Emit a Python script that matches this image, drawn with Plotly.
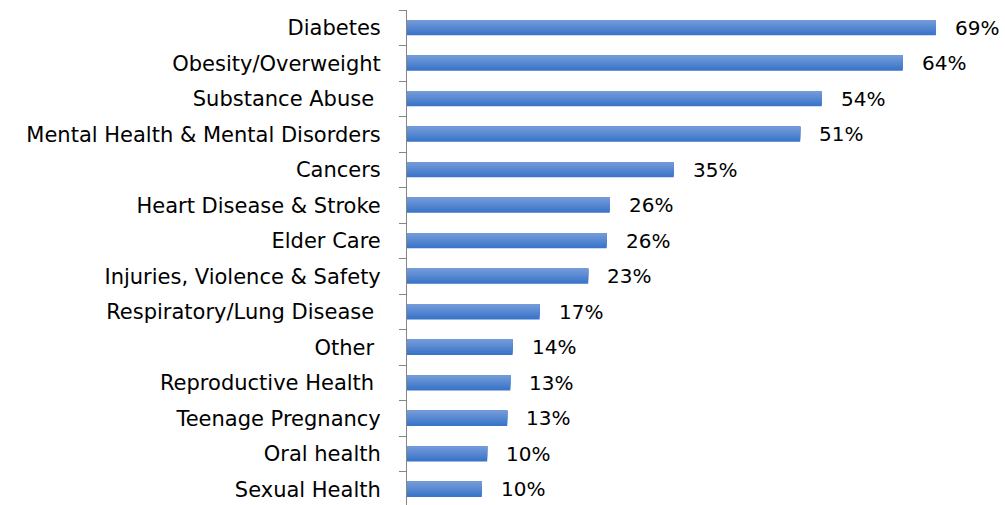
import plotly.graph_objects as go

categories = ["Diabetes", "Obesity/Overweight", "Substance Abuse\u00a0",
              "Mental Health & Mental Disorders", "Cancers", "Heart Disease & Stroke",
              "Elder Care", "Injuries, Violence & Safety", "Respiratory/Lung Disease\u00a0",
              "Other\u00a0", "Reproductive Health\u00a0", "Teenage Pregnancy",
              "Oral health", "Sexual Health"]
values = [68.6, 64.3, 53.8, 51.0, 34.6, 26.3, 25.9, 23.5, 17.2, 13.7, 13.4, 13.0, 10.4, 9.7]
value_labels = ["69%", "64%", "54%", "51%", "35%", "26%", "26%", "23%", "17%",
                "14%", "13%", "13%", "10%", "10%"]

FONT = "DejaVu Sans"
dark = (58, 117, 201)
light = (114, 153, 216)
n = 8
w = 0.425

fig = go.Figure()
for i in range(n):
    t = i / (n - 1)
    c = tuple(round(dark[k] + (light[k] - dark[k]) * t) for k in range(3))
    fig.add_trace(go.Bar(
        x=values, y=categories, orientation="h",
        width=w * (n - i) / n, offset=-w / 2,
        marker=dict(color="rgb(%d,%d,%d)" % c, line=dict(width=0)),
        hoverinfo="skip", showlegend=False,
    ))

for v, cat, lab in zip(values, categories, value_labels):
    fig.add_annotation(x=v, y=cat, text=lab, showarrow=False, xanchor="left",
                       xshift=17, yshift=0, font=dict(family=FONT, size=20, color="#000000"))

fig.update_layout(
    width=1005, height=505,
    margin=dict(l=407, r=0, t=10, b=0),
    barmode="overlay",
    plot_bgcolor="white", paper_bgcolor="white",
    xaxis=dict(visible=False, range=[0, 77.56], fixedrange=True),
    yaxis=dict(
        type="category", categoryorder="array", categoryarray=categories,
        range=[13.44, -0.5],
        showline=True, linecolor="#868686", linewidth=1,
        ticks="outside", ticklen=7, tickcolor="#868686", tickwidth=1,
        tickson="boundaries", ticklabelstandoff=21,
        showgrid=False, zeroline=False, automargin=False,
        tickfont=dict(family=FONT, size=21, color="#000000"),
    ),
)

fig.write_html("out.html", config={"displayModeBar": False},
               post_script="document.body.style.margin='0px';")
